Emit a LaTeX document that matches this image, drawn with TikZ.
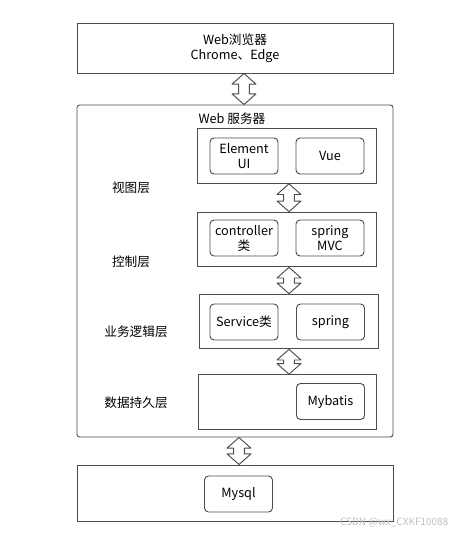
\documentclass[tikz,border=0pt]{standalone}
\usepackage{fontspec}
\setmainfont{Noto Sans CJK SC}
\usetikzlibrary{calc}

% hollow two-headed arrow: #1 x position, #2 upper node, #3 lower node
\newcommand{\dblarrow}[3]{%
  \draw[blockarrow] let \p1=(#1,0 |- #2.south), \p2=(#1,0 |- #3.north) in
    (\p1) -- (\x1+9pt,\y1-8pt) -- (\x1+4pt,\y1-8pt) -- (\x2+4pt,\y2+8pt)
    -- (\x2+9pt,\y2+8pt) -- (\p2) -- (\x2-9pt,\y2+8pt) -- (\x2-4pt,\y2+8pt)
    -- (\x1-4pt,\y1-8pt) -- (\x1-9pt,\y1-8pt) -- cycle;}

\begin{document}
\begin{tikzpicture}[x=0.75pt, y=-0.75pt, font=\fontsize{9.5}{11.25}\selectfont,
    box/.style={draw=black!70, line width=0.7pt, align=center, inner sep=1pt},
    tier/.style={box, minimum width=237pt},
    layer/.style={box, minimum width=134pt, minimum height=41pt},
    part/.style={box, rounded corners=3pt, minimum width=51pt, minimum height=27pt},
    blockarrow/.style={draw=black!70, line width=0.7pt, fill=white, line join=round}]
  \useasboundingbox (0,0) rectangle (456,535);

  % browser
  \node[tier, minimum height=37.5pt] (browser) at (235,48) {Web浏览器\\Chrome、Edge};

  % web server and its layers
  \node[tier, minimum height=249pt, rounded corners=2pt] (server) at (235,271) {};
  \node (servertitle) at (232,119) {Web 服务器};
  \node[layer] (view) at (287,156) {};
  \node[layer] (ctrl) at (287,239.5) {};
  \node[layer] (logic) at (289,321.5) {};
  \node[layer] (data) at (287.5,402) {};
  \node[part] (element) at (244,156) {Element\\UI};
  \node[part] (vue) at (330,156) {Vue};
  \node[part] (controller) at (244,238) {controller\\类};
  \node[part] (mvc) at (330,238) {spring\\MVC};
  \node[part] (service) at (244,322) {Service类};
  \node[part] (spring) at (330.5,322) {spring};
  \node[part] (mybatis) at (330.5,401.5) {Mybatis};
  \node (viewlbl) at (131,188) {视图层};
  \node (ctrllbl) at (131,262) {控制层};
  \node (logiclbl) at (136,332) {业务逻辑层};
  \node (datalbl) at (136,403) {数据持久层};

  % database
  \node[tier, minimum height=42pt] (db) at (235,493) {};
  \node[part] (mysql) at (238.5,494) {Mysql};

  \dblarrow{244}{browser}{server}
  \dblarrow{289}{view}{ctrl}
  \dblarrow{289}{ctrl}{logic}
  \dblarrow{289}{logic}{data}
  \dblarrow{239}{server}{db}

  \node[anchor=east, text=black!25, font=\fontsize{7.5}{9}\selectfont] (mark) at (453,523) {CSDN @wx\_CXKF10088};
\end{tikzpicture}
\end{document}
